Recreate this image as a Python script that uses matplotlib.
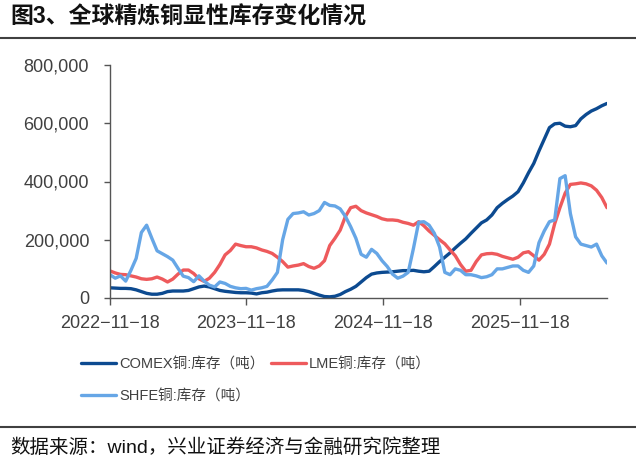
import matplotlib
matplotlib.use("Agg")
import matplotlib.pyplot as plt
import matplotlib.ticker as mticker
import pandas as pd
import numpy as np

# fortnightly dates, starting at the first tick
dates = pd.date_range("2022-11-18", periods=96, freq="14D")

# inventories in thousand tonnes
comex_kt = [35, 34, 33, 33, 32, 28, 22, 16, 13, 13, 16, 22, 24, 24, 24, 26,
            32, 38, 41, 38, 32, 26, 23, 21, 19, 18, 18, 17, 14, 18, 20, 24,
            27, 28, 28, 28, 28, 26, 22, 16, 10, 5, 4, 6, 12, 22, 30, 40,
            55, 70, 82, 86, 88, 89, 90, 92, 94, 94, 95, 92, 90, 92, 108, 125,
            140, 155, 172, 188, 203, 222, 240, 258, 268, 285, 310, 325, 338, 350, 365, 395,
            430, 462, 505, 545, 585, 598, 600, 590, 588, 592, 615, 630, 642, 650, 660, 668]
lme_kt = [93, 86, 81, 80, 76, 72, 66, 64, 66, 72, 65, 55, 65, 82, 96, 96,
          84, 66, 57, 68, 88, 115, 148, 163, 185, 180, 176, 176, 172, 165, 160, 153,
          140, 125, 106, 110, 113, 118, 108, 102, 110, 128, 180, 205, 233, 280, 310, 315,
          300, 292, 286, 280, 272, 268, 268, 266, 260, 256, 250, 262, 248, 230, 215, 200,
          186, 165, 145, 115, 92, 95, 125, 148, 152, 153, 150, 143, 138, 133, 140, 155,
          159, 145, 130, 150, 185, 255, 310, 360, 390, 392, 395, 392, 385, 370, 345, 310]
shfe_kt = [80, 68, 76, 58, 95, 136, 225, 250, 205, 162, 152, 142, 130, 102, 75, 70,
           56, 76, 58, 44, 38, 55, 50, 40, 35, 32, 33, 27, 32, 35, 40, 62,
           88, 200, 270, 290, 292, 296, 285, 290, 300, 328, 318, 316, 306, 280, 245, 205,
           150, 140, 167, 153, 128, 108, 82, 68, 75, 88, 170, 260, 262, 250, 222, 175,
           88, 80, 100, 95, 80, 80, 76, 70, 73, 80, 100, 100, 105, 110, 110, 95,
           88, 110, 190, 230, 262, 268, 410, 420, 290, 210, 185, 180, 175, 185, 145, 120]

series_labels = ["COMEX铜:库存（吨）", "LME铜:库存（吨）", "SHFE铜:库存（吨）"]
series_colors = ["#0c4a90", "#ee5a5c", "#66a6e6"]

tick_dates = ["2022-11-18", "2023-11-18", "2024-11-18", "2025-11-18"]
tick_labels = ["2022−11−18", "2023−11−18", "2024−11−18", "2025−11−18"]
y_ticks = [0, 200000, 400000, 600000, 800000]

title = "图3、全球精炼铜显性库存变化情况"
source = "数据来源：wind，兴业证券经济与金融研究院整理"

fonts = ["Liberation Sans", "Noto Sans CJK SC", "DejaVu Sans"]
plt.rcParams["font.family"] = fonts

fig = plt.figure(figsize=(6.36, 4.68), dpi=100)
fig.patch.set_facecolor("white")

# title with rule below
fig.text(0.016, 0.964, title, fontsize=16.5, fontweight="bold",
         va="center", ha="left", color="#111111")
fig.add_artist(plt.Line2D([0, 1], [1 - 38 / 468] * 2, color="#404040", lw=1.5))

ax = fig.add_axes([110 / 636, 1 - 298 / 468, 497 / 636, 233 / 468])

values = [comex_kt, lme_kt, shfe_kt]
for vals, lab, col in zip(values, series_labels, series_colors):
    ax.plot(dates, np.array(vals) * 1000, color=col, lw=2.4, label=lab,
            solid_capstyle="round", solid_joinstyle="round")

ax.set_xlim(dates[0], dates[-1])
ax.set_ylim(0, 800000)
ax.set_yticks(y_ticks)
ax.yaxis.set_major_formatter(mticker.FuncFormatter(lambda v, p: f"{int(v):,}"))
ax.set_xticks(pd.to_datetime(tick_dates))
ax.set_xticklabels(tick_labels)

for side in ["top", "right"]:
    ax.spines[side].set_visible(False)
for side in ["left", "bottom"]:
    ax.spines[side].set_color("#555555")
    ax.spines[side].set_linewidth(1.0)
ax.tick_params(axis="y", direction="out", length=4, width=1, color="#555555",
               labelsize=13, labelcolor="#404040", pad=11)
ax.tick_params(axis="x", direction="out", length=5, width=1, color="#555555",
               labelsize=13, labelcolor="#404040", pad=7)

handles, labels = ax.get_legend_handles_labels()
order = [0, 2, 1]
leg = fig.legend([handles[i] for i in order], [labels[i] for i in order],
                 ncol=2, loc="upper left", bbox_to_anchor=(68 / 636, 1 - 344 / 468),
                 frameon=False, fontsize=10.5, handlelength=2.4, handletextpad=0.2,
                 columnspacing=0.45, labelspacing=1.25)
for t in leg.get_texts():
    t.set_color("#404040")

# bottom rule and source
fig.add_artist(plt.Line2D([0, 1], [1 - 427 / 468] * 2, color="#404040", lw=1.5))
fig.text(0.016, 1 - 448 / 468, source, fontsize=14, va="center", ha="left",
         color="#111111")

fig.savefig("out.png", dpi=100)
